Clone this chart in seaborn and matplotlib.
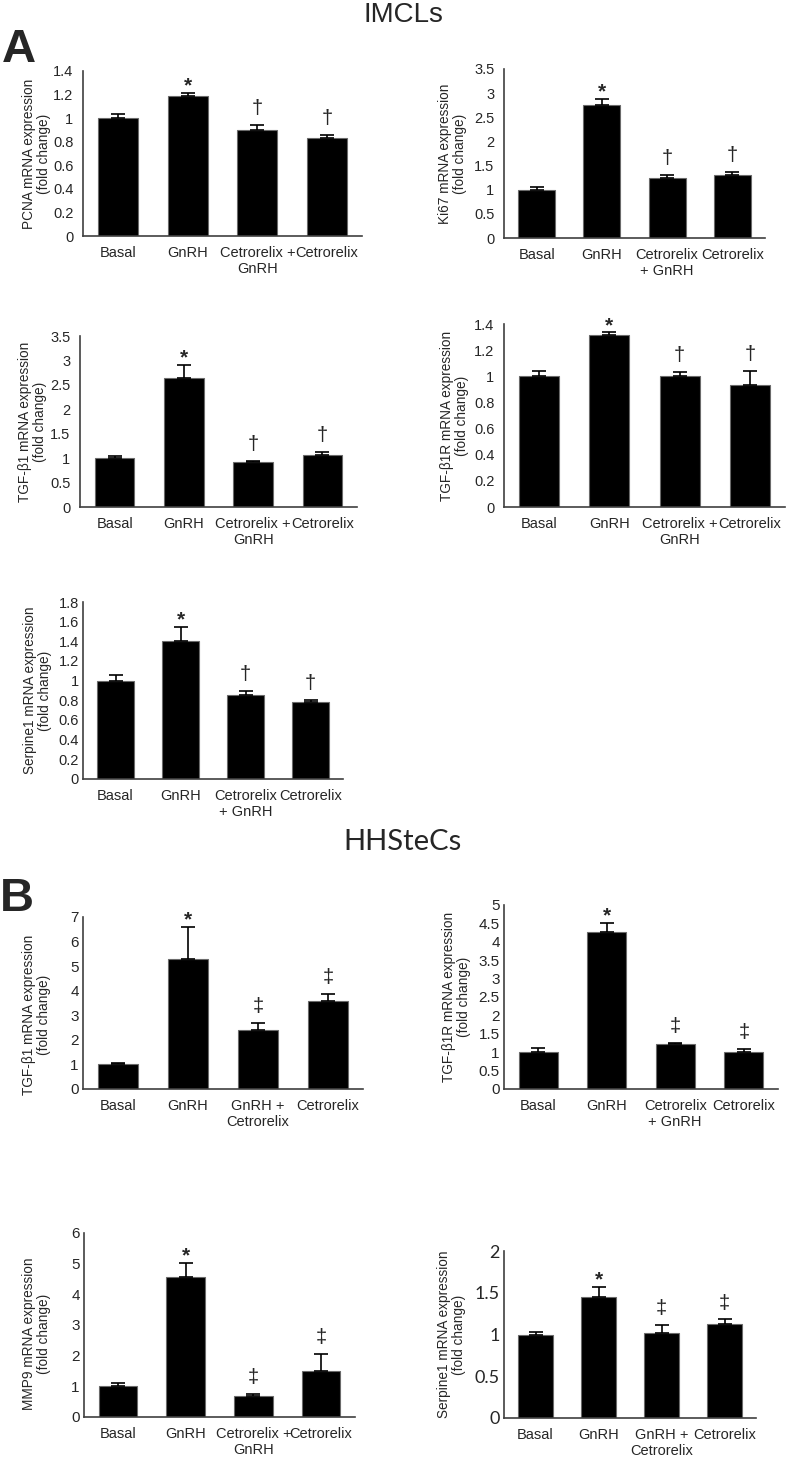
import numpy as np
import pandas as pd
import seaborn as sns
import matplotlib
matplotlib.use("Agg")
import matplotlib.pyplot as plt
from matplotlib import ticker

# ---- data ----
groups_a = ["Basal", "GnRH", "Cetrorelix +\nGnRH", "Cetrorelix"]
groups_a2 = ["Basal", "GnRH", "Cetrorelix\n+ GnRH", "Cetrorelix"]
groups_b = ["Basal", "GnRH", "GnRH +\nCetrorelix", "Cetrorelix"]

pcna_mean = [1.00, 1.185, 0.90, 0.835]
pcna_err = [0.035, 0.03, 0.045, 0.025]

ki67_mean = [1.00, 2.75, 1.25, 1.31]
ki67_err = [0.05, 0.13, 0.05, 0.05]

tgfb1_a_mean = [1.00, 2.65, 0.92, 1.07]
tgfb1_a_err = [0.04, 0.26, 0.03, 0.05]

tgfb1r_a_mean = [1.00, 1.315, 1.005, 0.93]
tgfb1r_a_err = [0.04, 0.02, 0.025, 0.11]

serpine1_a_mean = [1.00, 1.40, 0.85, 0.78]
serpine1_a_err = [0.055, 0.15, 0.05, 0.02]

tgfb1_b_mean = [1.00, 5.30, 2.40, 3.60]
tgfb1_b_err = [0.05, 1.30, 0.30, 0.25]

tgfb1r_b_mean = [1.00, 4.27, 1.22, 1.00]
tgfb1r_b_err = [0.12, 0.24, 0.04, 0.08]

mmp9_mean = [1.00, 4.57, 0.70, 1.50]
mmp9_err = [0.10, 0.45, 0.05, 0.55]

serpine1_b_mean = [1.00, 1.45, 1.02, 1.13]
serpine1_b_err = [0.025, 0.12, 0.09, 0.05]

marks_a = ["", "*", "\u2020", "\u2020"]
marks_b = ["", "*", "\u2021", "\u2021"]

W, H = 789, 1457

sns.set_style("white")
plt.rcParams["font.family"] = ["Liberation Sans", "DejaVu Sans"]


def rect(x0, x1, y0, y1):
    return [x0 / W, 1 - y1 / H, (x1 - x0) / W, (y1 - y0) / H]


def bar_panel(fig, box, labels, means, errs, marks, ylabel, ymax, ystep,
              label_x, xticks_out=True, yticks_out=True, ytick_font=None,
              ytick_size=10.5, label_y=0.5):
    ax = fig.add_axes(rect(*box))
    df = pd.DataFrame({"group": labels, "value": means})
    sns.barplot(data=df, x="group", y="value", order=labels, color="black",
                saturation=1, width=0.57, edgecolor="#6a6a6a", linewidth=0.8,
                errorbar=None, ax=ax)
    pos = np.arange(len(labels))
    ax.errorbar(pos, means, yerr=[np.zeros(len(errs)), errs], fmt="none",
                ecolor="black", elinewidth=1.2, capsize=5, capthick=1.2)
    for i, (m, e, s) in enumerate(zip(means, errs, marks)):
        if not s:
            continue
        if s == "*":
            ax.annotate(s, (i, m + e), xytext=(0, -2), textcoords="offset points",
                        ha="center", va="bottom", fontsize=15, fontweight="bold")
        else:
            ax.annotate(s, (i, m + e), xytext=(0, 5), textcoords="offset points",
                        ha="center", va="bottom", fontsize=14.5)
    ax.set_xlim(-0.5, len(labels) - 0.5)
    ax.set_ylim(0, ymax)
    ax.set_yticks(np.arange(0, ymax + ystep / 2, ystep))
    ax.yaxis.set_major_formatter(ticker.FuncFormatter(lambda v, p: f"{v:g}"))
    sns.despine(ax=ax)
    for sp in ("left", "bottom"):
        ax.spines[sp].set_color("#404040")
        ax.spines[sp].set_linewidth(1.2)
    ax.set_xlabel("")
    ax.set_ylabel(ylabel, fontsize=9.8, linespacing=1.1)
    width_px = box[1] - box[0]
    ax.yaxis.set_label_coords((label_x - box[0]) / width_px, label_y)
    ax.tick_params(axis="x", length=0, pad=7, labelsize=10.5)
    if xticks_out:
        ax.set_xticks(np.arange(-0.5, len(labels), 1.0), minor=True)
        ax.tick_params(axis="x", which="minor", length=4, width=1,
                       color="#404040", direction="out")
    ax.tick_params(axis="y", length=4 if yticks_out else 0, width=1,
                   color="#404040", direction="out", labelsize=ytick_size, pad=3)
    if ytick_font:
        for t in ax.get_yticklabels():
            t.set_family(ytick_font)
    return ax


fig = plt.figure(figsize=(W / 100, H / 100), dpi=100)

fig.text(403 / W, 1 - 15 / H, "IMCLs", ha="center", va="center", fontsize=20)
fig.text(403 / W, 1 - 850 / H, "HHSteCs", ha="center", va="baseline",
         fontsize=21, family=["Lato", "DejaVu Sans"])
fig.text(2 / W, 1 - 50 / H, "A", ha="left", va="center", fontsize=34,
         fontweight="bold")
fig.text(0 / W, 1 - 899 / H, "B", ha="left", va="center", fontsize=34,
         fontweight="bold")

bar_panel(fig, (83, 362, 71, 236), groups_a, pcna_mean, pcna_err, marks_a,
          "PCNA mRNA expression\n(fold change)", 1.4, 0.2, 51)
bar_panel(fig, (504, 765, 69, 238), groups_a2, ki67_mean, ki67_err, marks_a,
          "Ki67 mRNA expression\n(fold change)", 3.5, 0.5, 467)
bar_panel(fig, (80, 357, 336, 507), groups_a, tgfb1_a_mean, tgfb1_a_err, marks_a,
          "TGF-\u03b21 mRNA expression\n(fold change)", 3.5, 0.5, 47)
bar_panel(fig, (504, 785, 324, 507), groups_a, tgfb1r_a_mean, tgfb1r_a_err,
          marks_a, "TGF-\u03b21R mRNA expression\n(fold change)", 1.4, 0.2, 469)
bar_panel(fig, (83, 343, 602, 779), groups_a2, serpine1_a_mean, serpine1_a_err,
          marks_a, "Serpine1 mRNA expression\n(fold change)", 1.8, 0.2, 52,
          xticks_out=False, yticks_out=False)

bar_panel(fig, (83, 363, 917, 1089), groups_b, tgfb1_b_mean, tgfb1_b_err, marks_b,
          "TGF-\u03b21 mRNA expression\n(fold change)", 7, 1, 51,
          xticks_out=False, yticks_out=False, ytick_size=11, label_y=0.43)
bar_panel(fig, (504, 778, 905, 1089), groups_a2, tgfb1r_b_mean, tgfb1r_b_err,
          marks_b, "TGF-\u03b21R mRNA expression\n(fold change)", 5, 0.5, 471,
          xticks_out=False, yticks_out=False, ytick_size=11)
bar_panel(fig, (84, 355, 1233, 1417), groups_a, mmp9_mean, mmp9_err, marks_b,
          "MMP9 mRNA expression\n(fold change)", 6, 1, 51,
          xticks_out=False, yticks_out=False, ytick_size=11, label_y=0.45)
bar_panel(fig, (504, 756, 1251, 1418), groups_b, serpine1_b_mean, serpine1_b_err,
          marks_b, "Serpine1 mRNA expression\n(fold change)", 2, 0.5, 466,
          xticks_out=False, yticks_out=False, ytick_font="Lato", ytick_size=13)

fig.savefig("out.png", dpi=100)
